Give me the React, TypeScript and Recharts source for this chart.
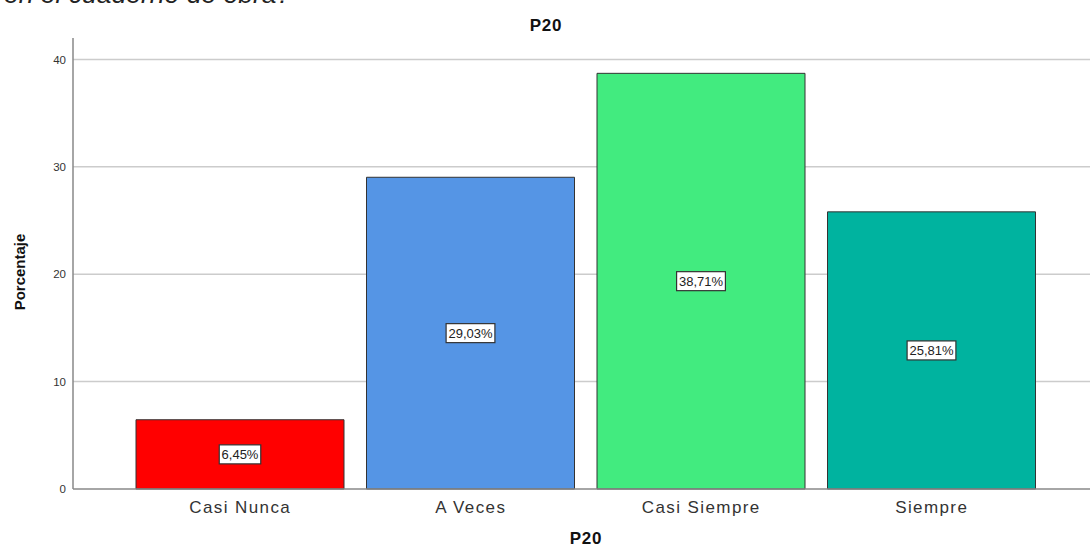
import { Bar, BarChart, CartesianGrid, Cell, LabelList, XAxis, YAxis } from "recharts";

const categories = ["Casi Nunca", "A Veces", "Casi Siempre", "Siempre"];
const percentages = [6.45, 29.03, 38.71, 25.81];
const barColors = ["#ff0000", "#5595e5", "#42eb7f", "#00b39f"];
const yTicks = [0, 10, 20, 30, 40];
const gridValues = [10, 20, 30, 40];

const chartData = categories.map((name, i) => ({ name, value: percentages[i] }));

const FONT = "Arial, 'Liberation Sans', sans-serif";

// white boxed label sitting at the middle of each bar
function BoxLabel(props: any) {
  const { x, y, width, height, value } = props;
  const text = value.toFixed(2).replace(".", ",") + "%";
  const w = text.length * 7.3 + 5;
  const h = 19;
  const cx = x + width / 2;
  const cy = y + height / 2;
  return (
    <g>
      <rect x={cx - w / 2} y={cy - h / 2} width={w} height={h} fill="#fff" stroke="#333" strokeWidth={1.2} />
      <text x={cx} y={cy + 4.5} textAnchor="middle" fontSize={13} fontFamily={FONT} fill="#222">
        {text}
      </text>
    </g>
  );
}

export default function App() {
  return (
    <div style={{ position: "absolute", left: 0, top: 0, width: 1090, height: 551, background: "#fff", fontFamily: FONT, overflow: "hidden" }}>
      <BarChart
        width={1090}
        height={551}
        data={chartData}
        margin={{ top: 38, right: 0, left: 0, bottom: 0 }}
        barSize={208}
      >
        <CartesianGrid vertical={false} horizontalValues={gridValues} stroke="#cccccc" strokeWidth={1.5} />
        <XAxis
          dataKey="name"
          height={62}
          padding={{ left: 52, right: 43 }}
          tickLine={false}
          axisLine={{ stroke: "#888", strokeWidth: 1.5 }}
          tick={{ fontSize: 17, fill: "#333", fontFamily: FONT, letterSpacing: 1.4 }}
          tickMargin={6}
        />
        <YAxis
          width={73}
          domain={[0, 42]}
          ticks={yTicks}
          tickLine={false}
          axisLine={{ stroke: "#888", strokeWidth: 1.5 }}
          tick={{ fontSize: 11.5, fill: "#333", fontFamily: FONT }}
          tickMargin={1}
        />
        <Bar dataKey="value" stroke="#333" strokeWidth={1} isAnimationActive={false}>
          {chartData.map((d, i) => (
            <Cell key={d.name} fill={barColors[i]} />
          ))}
          <LabelList dataKey="value" content={BoxLabel} />
        </Bar>
      </BarChart>
      <div style={{ position: "absolute", left: 4, top: -21, fontSize: 26.5, fontStyle: "italic", color: "#222", whiteSpace: "nowrap" }}>
        en el cuaderno de obra?
      </div>
      <div style={{ position: "absolute", left: 446, width: 200, top: 16, textAlign: "center", fontSize: 17, fontWeight: "bold", color: "#111", letterSpacing: 0.8 }}>
        P20
      </div>
      <div style={{ position: "absolute", left: 486, width: 200, top: 529, textAlign: "center", fontSize: 17, fontWeight: "bold", color: "#111", letterSpacing: 0.8 }}>
        P20
      </div>
      <div style={{ position: "absolute", left: 20 - 60, top: 272 - 10, width: 120, height: 20, textAlign: "center", lineHeight: "20px", fontSize: 15, fontWeight: "bold", color: "#111", transform: "rotate(-90deg)" }}>
        Porcentaje
      </div>
    </div>
  );
}
